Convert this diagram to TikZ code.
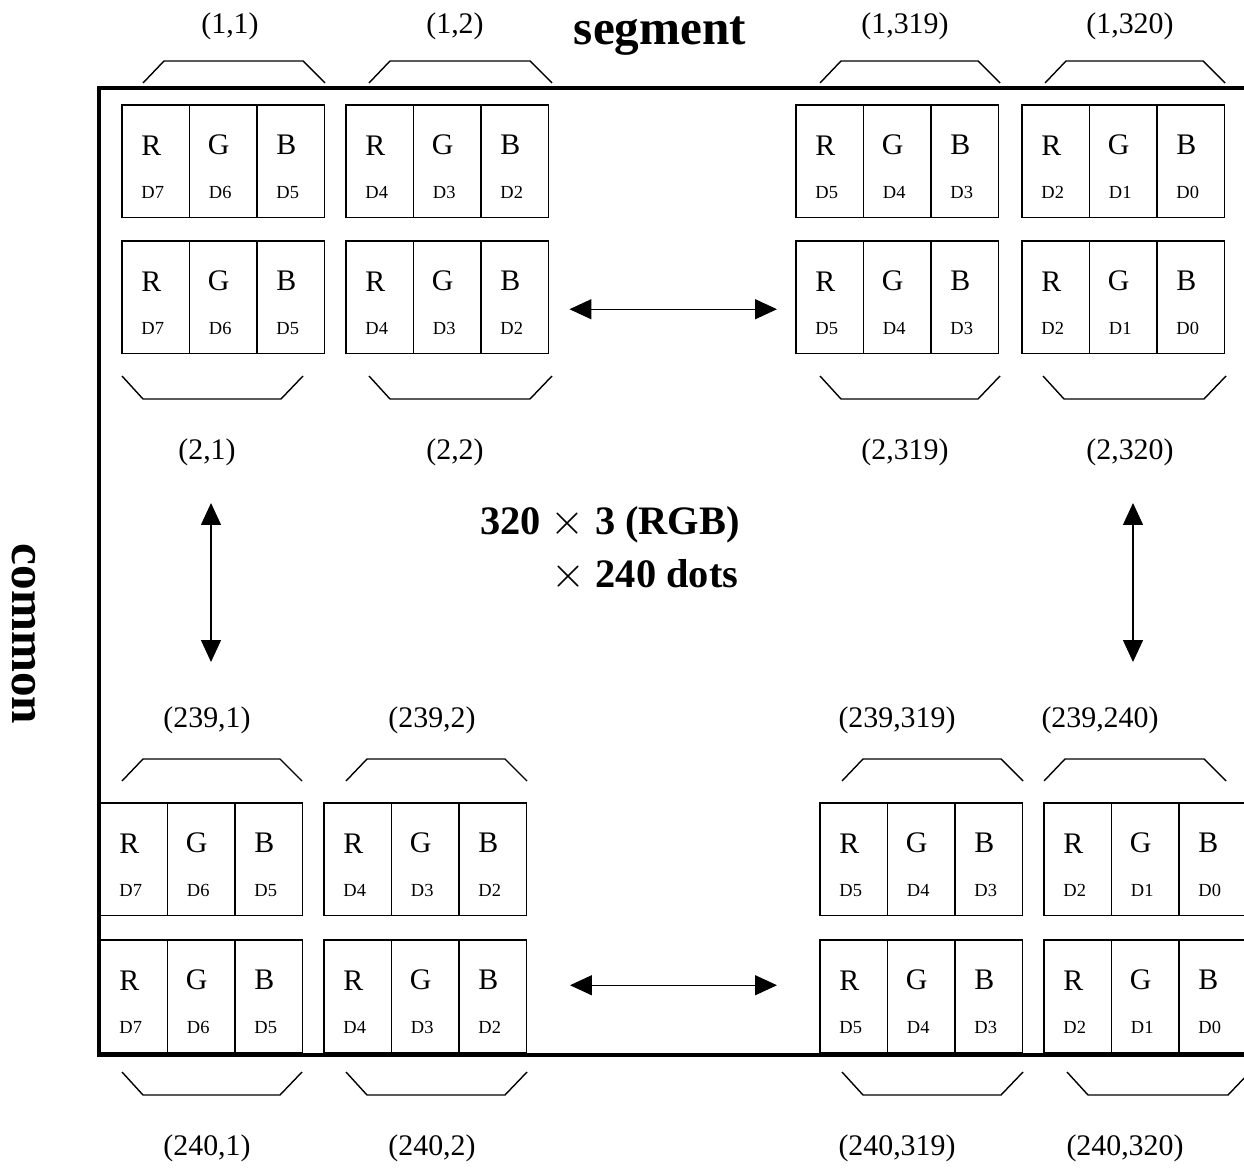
\documentclass[tikz,border=0pt]{standalone}
\usepackage{fontspec}
\setmainfont{Liberation Serif}
\usetikzlibrary{arrows.meta,positioning}

\tikzset{
  cell/.style={draw, line width=0.8pt, minimum width=1.35cm, minimum height=2.25cm, inner sep=0pt, outer sep=0pt},
  chan/.style={font=\fontsize{17}{20}\selectfont, inner sep=0pt},
  bit/.style={font=\fontsize{10.5}{12}\selectfont, inner sep=0pt},
  idx/.style={font=\fontsize{17}{20}\selectfont, inner sep=1pt},
  brk/.style={line width=0.8pt},
  frame/.style={line width=1.8pt},
  dbl/.style={{Triangle[length=0.44cm,width=0.4cm]}-{Triangle[length=0.44cm,width=0.4cm]}, line width=0.8pt},
  big/.style={font=\bfseries\fontsize{28}{32}\selectfont},
  mid/.style={font=\bfseries\fontsize{23}{27}\selectfont, inner sep=0pt},
}

% one dot: three sub-pixels R, G, B with their data bits
\newcommand\rgbgroup[5]{%
  \node[cell, anchor=north west] (#1-R) at (#2) {};
  \node[cell, right=0pt of #1-R] (#1-G) {};
  \node[cell, right=0pt of #1-G] (#1-B) {};
  \foreach \c/\d in {R/#3, G/#4, B/#5}{
    \node[chan] at ([xshift=-.09cm, yshift=.32cm]#1-\c.center) {\c};
    \node[bit] at ([xshift=-.06cm, yshift=-.63cm]#1-\c.center) {\d};
  }
}
% brackets over / under a dot
\newcommand\topbrk[3]{\draw[brk] (#1,#3+22) -- (#1+21,#3) -- (#2-22,#3) -- (#2,#3+22);}
\newcommand\botbrk[3]{\draw[brk] (#1,#3-23) -- (#1+21,#3) -- (#2-22,#3) -- (#2,#3-23);}

\begin{document}
\begin{tikzpicture}[x=0.02cm, y=-0.02cm]
  \useasboundingbox (0,0) rectangle (1244,1168);
  \clip (0,0) rectangle (1244,1168);

  % panel edges
  \draw[frame] (1260,88) -- (99,88) -- (99,1055) -- (1260,1055);

  \node[big] (seg) at (660,36) {segment};
  \node[big, rotate=-90] (com) at (24,634) {common};

  % first two lines
  \rgbgroup{g-1-1}{122,105}{D7}{D6}{D5}
  \rgbgroup{g-1-2}{346,105}{D4}{D3}{D2}
  \rgbgroup{g-1-319}{796,105}{D5}{D4}{D3}
  \rgbgroup{g-1-320}{1022,105}{D2}{D1}{D0}
  \rgbgroup{g-2-1}{122,241}{D7}{D6}{D5}
  \rgbgroup{g-2-2}{346,241}{D4}{D3}{D2}
  \rgbgroup{g-2-319}{796,241}{D5}{D4}{D3}
  \rgbgroup{g-2-320}{1022,241}{D2}{D1}{D0}

  % last two lines
  \rgbgroup{g-239-1}{100,803}{D7}{D6}{D5}
  \rgbgroup{g-239-2}{324,803}{D4}{D3}{D2}
  \rgbgroup{g-239-319}{820,803}{D5}{D4}{D3}
  \rgbgroup{g-239-240}{1044,803}{D2}{D1}{D0}
  \rgbgroup{g-240-1}{100,940}{D7}{D6}{D5}
  \rgbgroup{g-240-2}{324,940}{D4}{D3}{D2}
  \rgbgroup{g-240-319}{820,940}{D5}{D4}{D3}
  \rgbgroup{g-240-320}{1044,940}{D2}{D1}{D0}

  % brackets
  \topbrk{143}{325}{61} \topbrk{369}{552}{61} \topbrk{820}{1000}{61} \topbrk{1045}{1225}{61}
  \botbrk{122}{303}{399} \botbrk{369}{552}{399} \botbrk{820}{1000}{399} \botbrk{1043}{1226}{399}
  \topbrk{122}{302}{759} \topbrk{346}{527}{759} \topbrk{842}{1023}{759} \topbrk{1044}{1226}{759}
  \botbrk{122}{302}{1095} \botbrk{346}{527}{1095} \botbrk{842}{1023}{1095} \botbrk{1067}{1250}{1095}

  % dot addresses
  \node[idx] (l-1-1) at (230,26) {(1,1)};
  \node[idx] (l-1-2) at (455,26) {(1,2)};
  \node[idx] (l-1-319) at (905,26) {(1,319)};
  \node[idx] (l-1-320) at (1130,26) {(1,320)};
  \node[idx] (l-2-1) at (207,452) {(2,1)};
  \node[idx] (l-2-2) at (455,452) {(2,2)};
  \node[idx] (l-2-319) at (905,452) {(2,319)};
  \node[idx] (l-2-320) at (1130,452) {(2,320)};
  \node[idx] (l-239-1) at (207,720) {(239,1)};
  \node[idx] (l-239-2) at (432,720) {(239,2)};
  \node[idx] (l-239-319) at (897,720) {(239,319)};
  \node[idx] (l-239-240) at (1100,720) {(239,240)};
  \node[idx] (l-240-1) at (207,1148) {(240,1)};
  \node[idx] (l-240-2) at (432,1148) {(240,2)};
  \node[idx] (l-240-319) at (897,1148) {(240,319)};
  \node[idx] (l-240-320) at (1125,1148) {(240,320)};

  % size of the panel
  \node[mid] (size-a) at (610,525) {320 $\times$ 3 (RGB)};
  \node[mid] (size-b) at (645,575) {$\times$ 240 dots};

  % arrows
  \draw[dbl, shorten <=.42cm, shorten >=.38cm] ([yshift=-.24cm]g-2-2-B.east) -- ([yshift=-.24cm]g-2-319-R.west);
  \draw[dbl, shorten <=.87cm, shorten >=.86cm] ([yshift=.22cm]g-240-2-B.east) -- ([yshift=.22cm]g-240-319-R.west);
  \draw[dbl, shorten <=1.02cm, shorten >=1.16cm] ([xshift=.08cm]l-2-1.center) -- ([xshift=.08cm]l-239-1.center);
  \draw[dbl, shorten <=1.02cm, shorten >=1.16cm] ([xshift=.06cm]l-2-320.center) -- ([xshift=.06cm]l-2-320.center |- l-239-240.center);
\end{tikzpicture}
\end{document}
